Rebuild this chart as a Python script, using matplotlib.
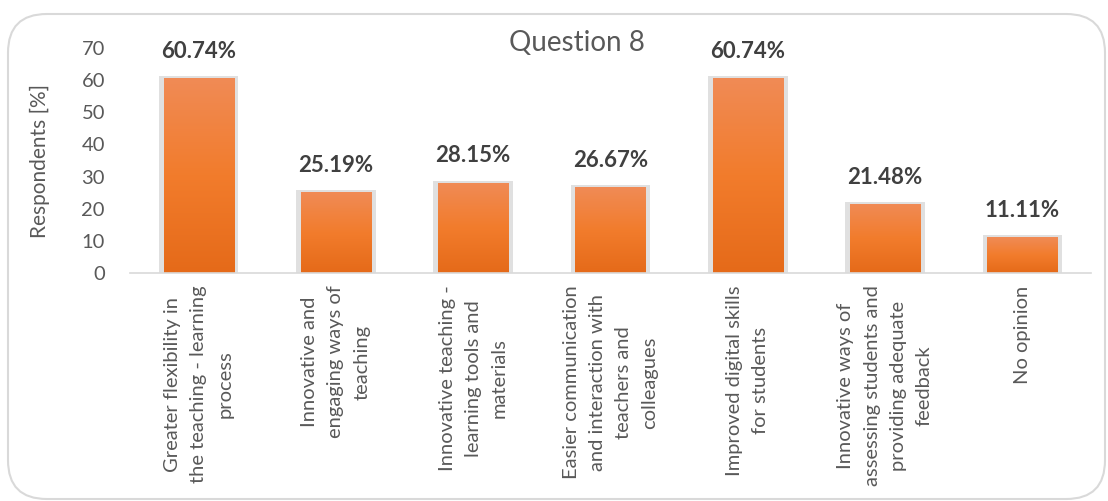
import numpy as np
import matplotlib
matplotlib.use("Agg")
import matplotlib.pyplot as plt
from matplotlib.patches import FancyBboxPatch, Rectangle
from matplotlib.colors import LinearSegmentedColormap

plt.rcParams['font.family'] = ['Lato', 'DejaVu Sans']

# data
categories = [
    "Greater flexibility in\nthe teaching - learning\nprocess",
    "Innovative and\nengaging ways of\nteaching",
    "Innovative teaching -\nlearning tools and\nmaterials",
    "Easier communication\nand interaction with\nteachers and\ncolleagues",
    "Improved digital skills\nfor students",
    "Innovative ways of\nassessing students and\nproviding adequate\nfeedback",
    "No opinion",
]
values = [60.74, 25.19, 28.15, 26.67, 60.74, 21.48, 11.11]
yticks = [0, 10, 20, 30, 40, 50, 60, 70]

grey = "#595959"

fig = plt.figure(figsize=(11.08, 5.01), dpi=100)

# rounded frame around the chart
frame = FancyBboxPatch((8 / 1108, 2 / 501), 1097 / 1108, 485 / 501, transform=fig.transFigure,
                       boxstyle="round,pad=0,rounding_size=0.035", mutation_aspect=1108 / 501,
                       fc="none", ec="#D9D9D9", lw=1.5, zorder=-1)
fig.patches.append(frame)

ax = fig.add_axes([130 / 1108, 228 / 501, 961 / 1108, 225 / 501])
ax.set_facecolor("none")

x = np.arange(len(values))
w = 0.51
cmap = LinearSegmentedColormap.from_list("og", ["#E56A19", "#F27C2C", "#F08B56"])
grad = np.linspace(0, 1, 256).reshape(-1, 1)

for xi, v in zip(x, values):
    # soft shadow behind the bar
    ax.add_patch(Rectangle((xi - w / 2 - 0.035, 0), w + 0.07, v + 0.6,
                           fc="#D4D4D4", ec="none", alpha=0.7, zorder=1))
    bar = Rectangle((xi - w / 2, 0), w, v, fc="#F07B2B", ec="none", zorder=2)
    ax.add_patch(bar)
    im = ax.imshow(grad, cmap=cmap, extent=(xi - w / 2, xi + w / 2, 0, v),
                   origin="lower", aspect="auto", zorder=3)
    im.set_clip_path(bar)
    ax.text(xi, v + 5, f"{v:.2f}%", ha="center", va="bottom",
            fontsize=16, fontweight="bold", color="#404040")

ax.set_xlim(-0.5, len(values) - 0.5)
ax.set_ylim(0, 70)
ax.set_yticks(yticks)
ax.set_xticks(x)
ax.set_xticklabels(categories, rotation=90, ha="center", va="top",
                   multialignment="center", fontsize=14.5, color=grey,
                   linespacing=1.65)
ax.tick_params(axis="y", length=0, labelsize=14.5, labelcolor=grey, pad=18)
ax.tick_params(axis="x", length=0, pad=9)
for s in ["top", "right", "left"]:
    ax.spines[s].set_visible(False)
ax.spines["bottom"].set_color("#D9D9D9")
ax.spines["bottom"].set_linewidth(1.2)
ax.spines["bottom"].set_zorder(5)

ax.set_ylabel("Respondents [%]", fontsize=15, color=grey, va="center")
ax.yaxis.set_label_coords(-0.094, 0.5)
fig.text(577 / 1108, 1 - 43 / 501, "Question 8", ha="center", va="center",
         fontsize=20, color=grey)

fig.savefig("out.png", dpi=100)
